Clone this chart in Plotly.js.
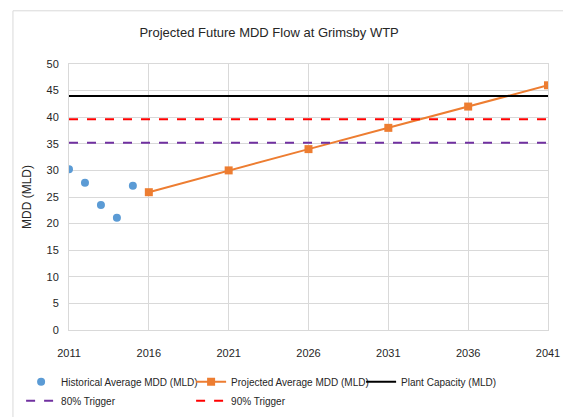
<!DOCTYPE html>
<html><head><meta charset="utf-8">
<script src="https://cdn.plot.ly/plotly-3.0.1.min.js"></script>
<style>body{margin:0;padding:0;background:#fff}#chart{width:563px;height:417px}</style>
</head><body><div id="chart"></div>
<script>
const histYears = [2011, 2012, 2013, 2014, 2015];
const histMDD = [30.2, 27.7, 23.5, 21.1, 27.1];
const projYears = [2016, 2021, 2026, 2031, 2036, 2041];
const projMDD = [25.9, 30.0, 34.0, 38.0, 42.0, 46.0];
const lineYears = [2011, 2041];
const plantCapacity = 44;
const trigger90 = 39.6;
const trigger80 = 35.2;
const tickYears = [2011, 2016, 2021, 2026, 2031, 2036, 2041];

const FONT = "'Liberation Sans', Arial, sans-serif";

const traces = [
  {x: histYears, y: histMDD, mode: 'markers', type: 'scatter', name: 'Historical Average MDD (MLD)',
   marker: {color: '#5B9BD5', size: 8, symbol: 'circle'}},
  {x: projYears, y: projMDD, mode: 'lines+markers', type: 'scatter', name: 'Projected Average MDD (MLD)',
   line: {color: '#ED7D31', width: 2}, marker: {color: '#ED7D31', size: 8, symbol: 'square'}},
  {x: lineYears, y: [plantCapacity, plantCapacity], mode: 'lines', type: 'scatter', name: 'Plant Capacity (MLD)',
   line: {color: '#000000', width: 2}},
  {x: lineYears, y: [trigger80, trigger80], mode: 'lines', type: 'scatter', name: '80% Trigger',
   line: {color: '#7030A0', width: 2, dash: 'dash'}},
  {x: lineYears, y: [trigger90, trigger90], mode: 'lines', type: 'scatter', name: '90% Trigger',
   line: {color: '#FF0000', width: 2, dash: 'dash'}}
];

const layout = {
  width: 563, height: 417,
  margin: {l: 69, r: 15, t: 64, b: 87, autoexpand: false},
  paper_bgcolor: '#ffffff', plot_bgcolor: '#ffffff',
  font: {family: FONT, color: '#404040', size: 11},
  title: {text: 'Projected Future MDD Flow at Grimsby WTP', font: {family: FONT, size: 13, color: '#262626'},
          x: 0.478, xanchor: 'center', y: 0.922, yanchor: 'middle'},
  xaxis: {range: [2011, 2041], tickvals: tickYears, ticktext: tickYears.map(String), automargin: false,
          showgrid: true, gridcolor: '#D9D9D9', gridwidth: 1, zeroline: false,
          showline: true, linecolor: '#D9D9D9', mirror: true, ticks: '', ticklabelstandoff: 13,
          tickfont: {family: FONT, size: 11, color: '#262626'}},
  yaxis: {range: [0, 50], dtick: 5, tick0: 0, showgrid: true, gridcolor: '#D9D9D9', gridwidth: 1, automargin: false,
          zeroline: false, showline: true, linecolor: '#D9D9D9', mirror: true, ticks: '', ticklabelstandoff: 7,
          tickfont: {family: FONT, size: 11, color: '#262626'},
          title: {text: 'MDD (MLD)', font: {family: FONT, size: 12, color: '#262626'}, standoff: 12}},
  showlegend: true,
  legend: {orientation: 'h', x: -0.1, xanchor: 'left', y: -0.14, yanchor: 'top',
           entrywidth: 125, entrywidthmode: 'pixels', tracegroupgap: 0,
           font: {family: FONT, size: 10, color: '#262626'}, bgcolor: 'rgba(0,0,0,0)'},
  shapes: [
    {type: 'rect', xref: 'paper', yref: 'paper', x0: -0.117, x1: 1.05, y0: -0.35, y1: 1.2,
     line: {color: '#D9D9D9', width: 1}, fillcolor: 'rgba(0,0,0,0)', layer: 'below'}
  ]
};

Plotly.newPlot('chart', traces, layout, {displayModeBar: false, staticPlot: true});
</script></body></html>
